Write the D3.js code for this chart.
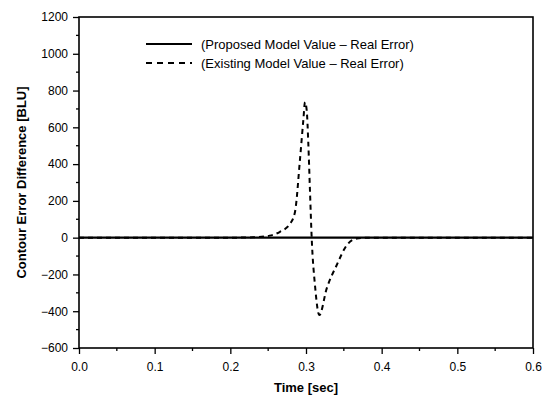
<!DOCTYPE html>
<html>
<head>
<meta charset="utf-8">
<script src="https://cdn.jsdelivr.net/npm/d3@7"></script>
<style>
  body { margin: 0; background: #fff; }
  svg { display: block; font-family: Arial, "Liberation Sans", sans-serif; }
</style>
</head>
<body>
<svg id="chart" width="545" height="403"></svg>
<script>
// Data
const proposedTime = [0, 0.1, 0.2, 0.25, 0.3, 0.35, 0.4, 0.5, 0.6];
const proposedValue = [0, 0, 0, 0, 0, 0, 0, 0, 0];

const existingTime = [0, 0.2, 0.23, 0.252, 0.2656, 0.279, 0.2855, 0.2921, 0.2965, 0.2987,
  0.301, 0.303, 0.3053, 0.3075, 0.3119, 0.3176, 0.3273, 0.3405, 0.3537, 0.367, 0.38, 0.6];
const existingValue = [0, 0, 2, 11, 32, 76, 141, 428, 640, 737,
  690, 519, 249, 0, -260, -421, -277, -150, -42, -5, 0, 0];

const yTicks = [-600, -400, -200, 0, 200, 400, 600, 800, 1000, 1200];
const xTicks = [0, 0.1, 0.2, 0.3, 0.4, 0.5, 0.6];
const legendLabels = ["(Proposed Model Value \u2013 Real Error)", "(Existing Model Value \u2013 Real Error)"];

const svg = d3.select("#chart");
const margin = {top: 17, right: 12, bottom: 55, left: 79};
const width = 545 - margin.left - margin.right,
      height = 403 - margin.top - margin.bottom;

const x = d3.scaleLinear().domain([0, 0.6]).range([0, width]);
const y = d3.scaleLinear().domain([-600, 1200]).range([height, 0]);

const g = svg.append("g").attr("transform", `translate(${margin.left},${margin.top})`);

// frame
g.append("rect")
  .attr("width", width).attr("height", height)
  .attr("fill", "none").attr("stroke", "#000").attr("stroke-width", 1.6);

// minor ticks
const yMinor = d3.range(-500, 1200, 200);
const xMinor = d3.range(0.05, 0.6, 0.1);

const yAxis = g.append("g")
  .call(d3.axisLeft(y).tickValues(yTicks).tickSize(6).tickPadding(5).tickFormat(d3.format("d")));
yAxis.append("g").selectAll("line").data(yMinor).join("line")
  .attr("x1", 0).attr("x2", -3).attr("y1", d => y(d)).attr("y2", d => y(d))
  .attr("stroke", "#000").attr("stroke-width", 1.3);

const xAxis = g.append("g").attr("transform", `translate(0,${height})`)
  .call(d3.axisBottom(x).tickValues(xTicks).tickSize(6).tickPadding(8).tickFormat(d3.format(".1f")));
xAxis.append("g").selectAll("line").data(xMinor).join("line")
  .attr("y1", 0).attr("y2", 3).attr("x1", d => x(d)).attr("x2", d => x(d))
  .attr("stroke", "#000").attr("stroke-width", 1.3);

[yAxis, xAxis].forEach(a => {
  a.select(".domain").remove();
  a.selectAll(".tick line").attr("stroke-width", 1.3);
  a.selectAll("text").attr("font-size", 12).attr("fill", "#000")
    .attr("font-family", "Arial, 'Liberation Sans', sans-serif");
});

// lines
const line = d3.line().curve(d3.curveMonotoneX);

g.append("path")
  .datum(existingTime.map((t, i) => [x(t), y(existingValue[i])]))
  .attr("d", line)
  .attr("fill", "none").attr("stroke", "#000").attr("stroke-width", 2)
  .attr("stroke-dasharray", "5,4");

g.append("path")
  .datum(proposedTime.map((t, i) => [x(t), y(proposedValue[i])]))
  .attr("d", line)
  .attr("fill", "none").attr("stroke", "#000").attr("stroke-width", 2.4);

// legend
const legend = svg.append("g").attr("transform", "translate(146,44)");
legendLabels.forEach((label, i) => {
  const row = legend.append("g").attr("transform", `translate(0,${i * 19})`);
  row.append("line").attr("x1", 0).attr("x2", 46).attr("y1", 0).attr("y2", 0)
    .attr("stroke", "#000").attr("stroke-width", 2)
    .attr("stroke-dasharray", i === 0 ? null : "6,5");
  row.append("text").attr("x", 55).attr("y", 0).attr("dy", "0.35em")
    .attr("font-size", 13).text(label);
});

// axis titles
svg.append("text")
  .attr("x", margin.left + width / 2).attr("y", 392)
  .attr("text-anchor", "middle").attr("font-size", 13).attr("font-weight", "bold")
  .text("Time [sec]");

svg.append("text")
  .attr("transform", `translate(26,${margin.top + height / 2}) rotate(-90)`)
  .attr("text-anchor", "middle").attr("font-size", 13).attr("font-weight", "bold")
  .text("Contour Error Difference [BLU]");
</script>
</body>
</html>
